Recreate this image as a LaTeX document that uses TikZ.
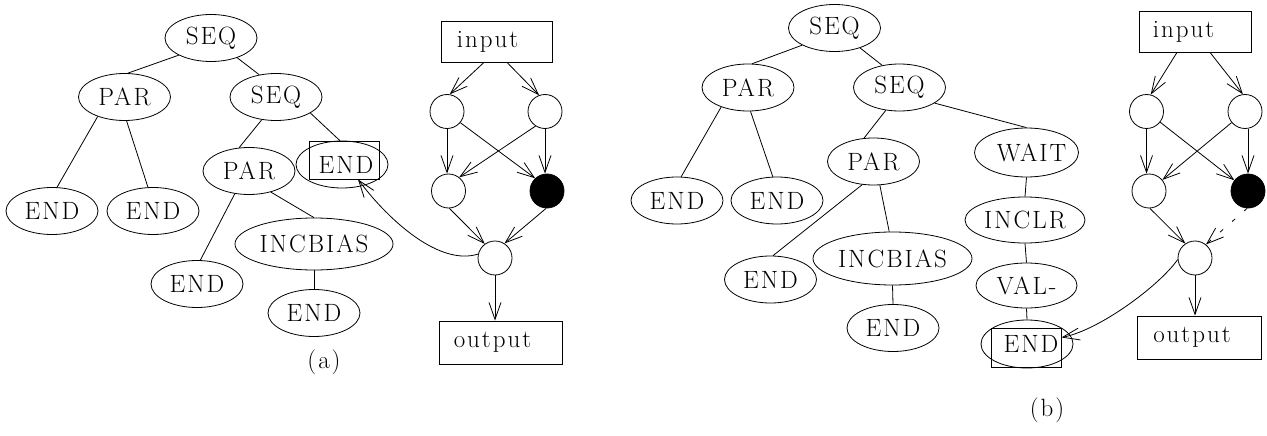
\documentclass[tikz,border=0pt]{standalone}
\usepackage{fontspec}
\setmainfont{Latin Modern Roman}[LetterSpace=8]
\usetikzlibrary{arrows.meta,shapes.geometric,calc}
\newcommand\lbl[1]{\makebox[0pt]{#1}}
\begin{document}
\begin{tikzpicture}[x=1pt,y=-1pt,line width=0.8pt,
  every node/.style={font=\fontsize{25}{30}\selectfont},
  tn/.style={ellipse, draw, inner sep=0pt, minimum width=92pt, minimum height=47pt},
  bx/.style={rectangle, draw, inner sep=0pt},
  cn/.style={circle, draw, inner sep=0pt, minimum size=34pt},
  ar/.style={-{Straight Barb[length=17pt,width=12pt]}}]
\useasboundingbox (0,0) rectangle (1267,436);
% ---------- (a) tree
\node[tn] (aseq) at (211,38) {\lbl{SEQ}};
\node[tn] (apar) at (124.5,97) {\lbl{PAR}};
\node[tn] (aseq2) at (276,97) {\lbl{SEQ}};
\node[tn] (aend0) at (342,164.5) {\lbl{\kern8pt END}};
\node[bx, minimum width=70pt, minimum height=38pt] (aendbox) at (344,160) {};
\node[tn] (apar2) at (249,171) {\lbl{PAR}};
\node[tn] (aend1) at (52,211) {\lbl{END}};
\node[tn] (aend2) at (153,211) {\lbl{END}};
\node[tn, minimum width=158pt, minimum height=52pt] (ainc) at (314,244) {\lbl{INCBIAS}};
\node[tn] (aend3) at (197,284) {\lbl{END}};
\node[tn] (aend4) at (314,313) {\lbl{END}};
\node (alab) at (324,362) {(a)};
\draw (aseq.208) -- (apar.82);
\draw (aseq.323) -- (aseq2.127);
\draw (apar.216) -- (aend1.78);
\draw (apar.275) -- (aend2.102);
\draw (aseq2.238) -- (apar2.113);
\draw (aseq2.335) -- (aend0.95);
\draw (apar2.238) -- (aend3.82);
\draw (apar2.316) -- (ainc.north);
\draw (ainc.south) -- (aend4.north);
% ---------- (a) network
\node[bx, minimum width=111pt, minimum height=41pt] (ain) at (496.5,41.5) {\lbl{\kern-18pt input}};
\node[cn] (atl) at (447,111.5) {};
\node[cn] (atr) at (545,111.5) {};
\node[cn] (aml) at (448.5,191) {};
\node[cn, fill=black] (abl) at (547,191) {};
\node[cn] (abot) at (495,258) {};
\node[bx, minimum width=123pt, minimum height=43pt] (aout) at (500.5,342.5) {\lbl{\kern-16pt output}};
\draw[ar] ([xshift=-12.5pt]ain.south) -- (atl.81);
\draw[ar] ([xshift=10.5pt]ain.south) -- (atr.110);
\draw[ar] (atl.south) -- (atl.south |- aml.north);
\draw[ar] (atr.south) -- (atr.south |- abl.north);
\draw[ar] (atl.320) -- (abl.133);
\draw[ar] (atr.237) -- (aml.52);
\draw[ar] (aml.273) -- (abot.126);
\draw[ar] (abl.267) -- (abot.57);
\draw[ar] (abot.south) -- (abot.south |- aout.north);
\draw[ar] (abot.167) .. controls (440,266) and (390,222) .. ([xshift=14pt]aendbox.south);
% ---------- (b) tree
\node[tn] (bseq) at (834.5,28) {\lbl{SEQ}};
\node[tn] (bpar) at (748,87.5) {\lbl{PAR}};
\node[tn] (bseq2) at (899.5,87.5) {\lbl{SEQ}};
\node[tn] (bend1) at (677,200.5) {\lbl{END}};
\node[tn] (bend2) at (777,200.5) {\lbl{END}};
\node[tn] (bpar2) at (873.5,161.5) {\lbl{PAR}};
\node[tn] (bend3) at (770.5,279.5) {\lbl{END}};
\node[tn, minimum width=159pt, minimum height=53pt] (binc) at (892.5,258.5) {\lbl{INCBIAS}};
\node[tn] (bend4) at (893,328) {\lbl{END}};
\node[tn, minimum width=104pt, minimum height=49pt] (bwait) at (1026.5,152.5) {\lbl{\kern10pt WAIT}};
\node[tn, minimum width=120pt, minimum height=46pt] (binclr) at (1025,220) {\lbl{INCLR}};
\node[tn, minimum width=101pt, minimum height=45pt] (bval) at (1026.5,285.5) {\lbl{VAL-}};
\node[tn, minimum width=92pt, minimum height=48pt] (bend0) at (1027,344) {\lbl{\kern8pt END}};
\node[bx, minimum width=70pt, minimum height=39pt] (bendbox) at (1026,347.5) {};
\node (blab) at (1047,410) {(b)};
\draw (bseq.208) -- (bpar.80);
\draw (bseq.322) -- (bseq2.128);
\draw (bpar.216) -- (bend1.80);
\draw (bpar.276) -- (bend2.100);
\draw (bseq2.239) -- (bpar2.112);
\draw (bseq2.336) -- (bwait.north);
\draw (bpar2.244) -- (bend3.84);
\draw (bpar2.285) -- (binc.97);
\draw (binc.south) -- (bend4.north);
\draw (bwait.south) -- (binclr.north);
\draw (binclr.south) -- (bval.north);
\draw (bval.south) -- (bend0.north);
% ---------- (b) network
\node[bx, minimum width=112pt, minimum height=41pt] (bin) at (1195,31.5) {\lbl{\kern-23pt input}};
\node[cn] (btl) at (1146.5,111.5) {};
\node[cn] (btr) at (1245,111.5) {};
\node[cn] (bml) at (1149,191) {};
\node[cn, fill=black] (bbl) at (1248,191) {};
\node[cn] (bbot) at (1195,258) {};
\node[bx, minimum width=124pt, minimum height=43pt] (bout) at (1199,337.5) {\lbl{\kern-14pt output}};
\draw[ar] ([xshift=-18pt]bin.south) -- (btl.76);
\draw[ar] ([xshift=15pt]bin.south) -- (btr.97);
\draw[ar] (btl.south) -- (btl.south |- bml.north);
\draw[ar] (bbl.north |- btr.south) -- (bbl.north);
\draw[ar] (btl) -- (bbl);
\draw[ar] (btr) -- (bml);
\draw[ar] (bml.273) -- (bbot.124);
\draw[ar, dash pattern=on 4pt off 12pt] (bbl.267) -- (bbot.51);
\draw[ar] (bbot.south) -- (bbot.south |- bout.north);
\draw[ar] (bbot.185) .. controls (1160,285) and (1100,330) .. ([yshift=10pt]bendbox.east);
\end{tikzpicture}
\end{document}
